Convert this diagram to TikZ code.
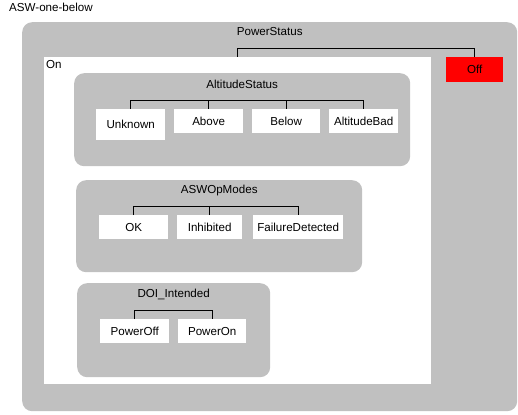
\documentclass[tikz,border=0pt]{standalone}
\usepackage{fontspec}
\setmainfont[Ligatures=NoCommon]{Liberation Sans}
\usetikzlibrary{positioning}
\definecolor{stategray}{HTML}{C0C0C0}
\definecolor{offred}{HTML}{FF0000}

\tikzset{
  region/.style={fill=stategray, rounded corners=10pt, anchor=north west, inner sep=0pt},
  leaf/.style={fill=white, anchor=north west, inner sep=0pt, minimum height=24pt},
  rlabel/.style={inner sep=0pt, text height=8.5pt, text depth=2pt},
  bar/.style={draw=black, line width=0.8pt}
}

\begin{document}
\begin{tikzpicture}[x=1pt, y=-1pt, font=\fontsize{11.6}{13}\selectfont]
\useasboundingbox (0,0) rectangle (518,414);

\node[anchor=base west, inner sep=0pt] (title) at (9,12) {ASW-one-below};

% top level
\node[region, minimum width=495pt, minimum height=389pt] (powerstatus) at (22,22) {};
\node[rlabel, below=5pt of powerstatus.north] (pslabel) {PowerStatus};
\node[fill=white, anchor=north west, minimum width=387pt, minimum height=327pt] (on) at (44,57) {};
\node[anchor=north west, inner sep=0pt] (onlabel) at (46,60) {On};
\node[leaf, fill=offred, minimum width=57pt, minimum height=25pt] (off) at (446,57) {Off};

% AltitudeStatus
\node[region, minimum width=336pt, minimum height=93pt] (altstatus) at (74,73) {};
\node[rlabel, below=7pt of altstatus.north] (aslabel) {AltitudeStatus};
\node[leaf, minimum width=69pt, minimum height=31pt] (unknown) at (96,109) {Unknown};
\node[leaf, minimum width=69pt] (above) at (174,109) {Above};
\node[leaf, minimum width=68pt] (below) at (252,109) {Below};
\node[leaf, minimum width=69pt] (altbad) at (329,109) {AltitudeBad};

% ASWOpModes
\node[region, minimum width=286pt, minimum height=92pt] (opmodes) at (76,180) {};
\node[rlabel, below=5pt of opmodes.north] (omlabel) {ASWOpModes};
\node[leaf, minimum width=69pt] (ok) at (99,215) {OK};
\node[leaf, minimum width=65pt] (inhibited) at (177,215) {Inhibited};
\node[leaf, minimum width=90pt] (faildet) at (253,215) {FailureDetected};

% DOI_Intended
\node[region, minimum width=193pt, minimum height=94pt] (doi) at (77,283) {};
\node[rlabel, below=6pt of doi.north] (doilabel) {DOI\_Intended};
\node[leaf, minimum width=69pt] (poweroff) at (100,319) {PowerOff};
\node[leaf, minimum width=68pt] (poweron) at (178,319) {PowerOn};

% brackets
\coordinate (psbar) at (0,48);
\coordinate (asbar) at (0,100);
\coordinate (ombar) at (0,206);
\coordinate (doibar) at (0,310);
\draw[bar] (on.north) -- (on.north |- psbar) -| (off.north);
\draw[bar] (unknown.north) -- (unknown.north |- asbar) -| (altbad.north);
\draw[bar] (above.north) -- (above.north |- asbar);
\draw[bar] (below.north) -- (below.north |- asbar);
\draw[bar] (ok.north) -- (ok.north |- ombar) -| (faildet.north);
\draw[bar] (inhibited.north) -- (inhibited.north |- ombar);
\draw[bar] (poweroff.north) -- (poweroff.north |- doibar) -| (poweron.north);
\end{tikzpicture}
\end{document}
